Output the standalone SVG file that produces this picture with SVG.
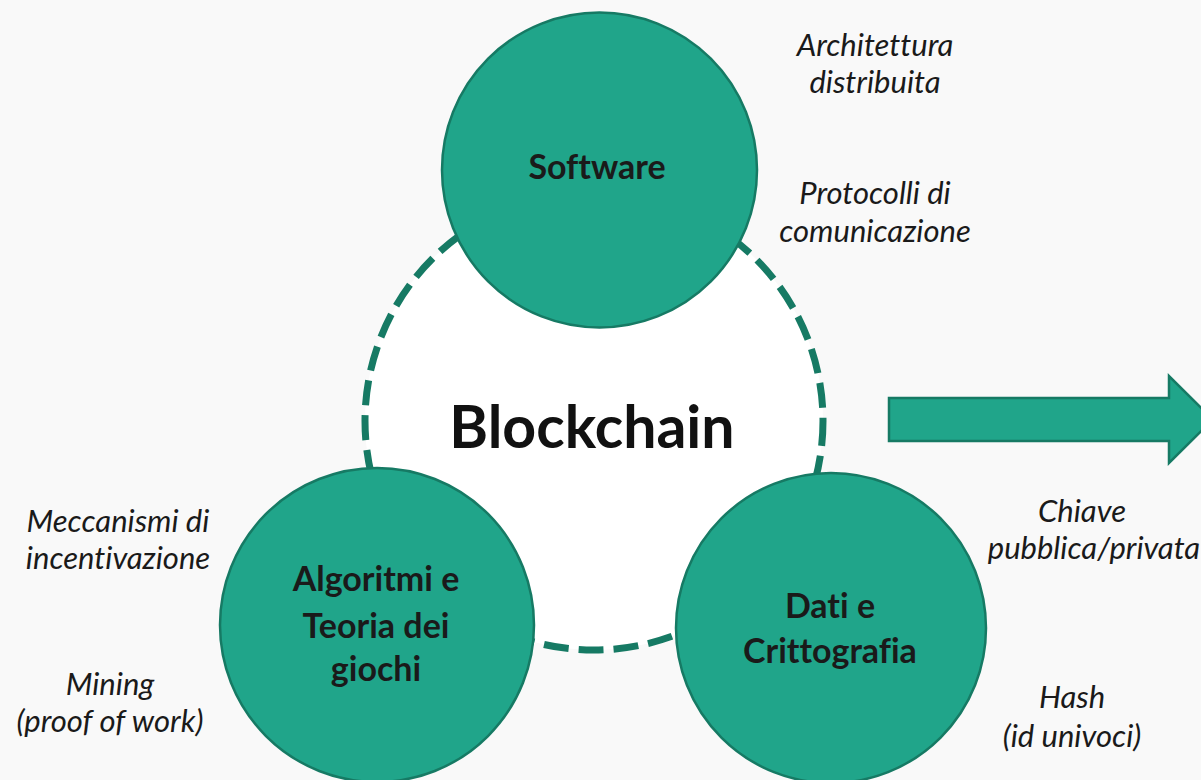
<svg xmlns="http://www.w3.org/2000/svg" width="1201" height="780" viewBox="0 0 1201 780">
<style>
.bg{fill:#f9f9f9}
.node{fill:#20a58a;stroke:#167a64;stroke-width:2.5}
.ring{fill:#ffffff;stroke:#167a64;stroke-width:7;stroke-dasharray:25 10}
.arrow{fill:#20a58a;stroke:#167a64;stroke-width:2.5}
text{font-variant-ligatures:none}
.lbl{font-family:Lato,"Liberation Sans",sans-serif;font-style:italic;font-size:31px;fill:#1a1a1a;text-anchor:middle}
.ttl{font-family:Lato,"Liberation Sans",sans-serif;font-weight:bold;font-size:34px;fill:#1a1a1a;text-anchor:middle}
.big{font-family:Lato,"Liberation Sans",sans-serif;font-weight:bold;font-size:59px;fill:#111111;text-anchor:middle}
</style>
<rect class="bg" x="0" y="0" width="1201" height="780"/>
<g id="connectors">
<circle id="ring" class="ring" cx="594" cy="421" r="229"/>
<polygon class="arrow" points="889,398 1169,398 1169,376 1213,419.5 1169,463 1169,441 889,441"/>
</g>
<g id="blockchain"><text class="big" x="592" y="448">Blockchain</text></g>
<g id="software">
<circle class="node" cx="599.5" cy="170" r="157.5"/>
<text class="ttl" x="597" y="179">Software</text>
</g>
<g id="algoritmi">
<circle class="node" cx="377" cy="625" r="157"/>
<text class="ttl" x="376" y="591">Algoritmi e</text>
<text class="ttl" x="376" y="638">Teoria dei</text>
<text class="ttl" x="376" y="681">giochi</text>
</g>
<g id="dati">
<circle class="node" cx="831" cy="628" r="155"/>
<text class="ttl" x="830" y="618">Dati e</text>
<text class="ttl" x="830" y="663">Crittografia</text>
</g>
<g id="labels">
<text class="lbl" x="875" y="56">Architettura</text>
<text class="lbl" x="875" y="93">distribuita</text>
<text class="lbl" x="875" y="204">Protocolli di</text>
<text class="lbl" x="875" y="242">comunicazione</text>
<text class="lbl" x="118" y="532">Meccanismi di</text>
<text class="lbl" x="118" y="569">incentivazione</text>
<text class="lbl" x="110" y="695">Mining</text>
<text class="lbl" x="110" y="732">(proof of work)</text>
<text class="lbl" x="1082" y="522">Chiave</text>
<text class="lbl" x="1094" y="559">pubblica/privata</text>
<text class="lbl" x="1072" y="708">Hash</text>
<text class="lbl" x="1072" y="747">(id univoci)</text>
</g>
</svg>
